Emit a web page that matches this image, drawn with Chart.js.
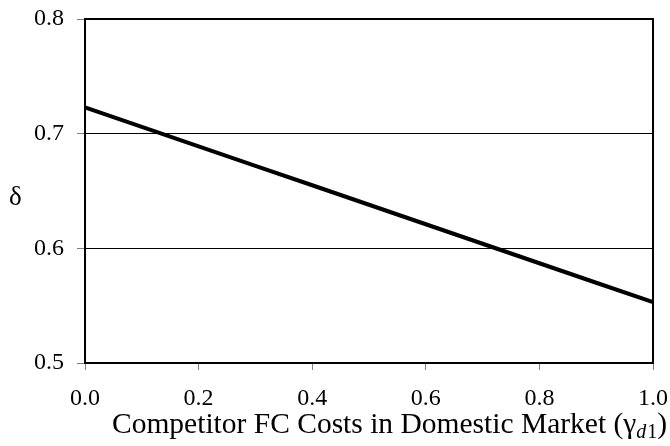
<!DOCTYPE html>
<html>
<head>
<meta charset="utf-8">
<script src="https://cdn.jsdelivr.net/npm/chart.js@4.4.1/dist/chart.umd.min.js"></script>
<style>
  html, body { margin: 0; padding: 0; background: #fff; }
  #wrap { width: 670px; height: 446px; position: relative; }
</style>
</head>
<body>
<div id="wrap"><canvas id="chartCanvas" width="670" height="446"></canvas></div>
<script>
// data
const xValues = [0.0, 0.1, 0.2, 0.3, 0.4, 0.5, 0.6, 0.7, 0.8, 0.9, 1.0];
const deltaValues = [0.723, 0.706, 0.689, 0.672, 0.655, 0.638, 0.621, 0.604, 0.587, 0.570, 0.553];
const xTicks = ['0.0', '0.2', '0.4', '0.6', '0.8', '1.0'];
const yTicks = ['0.5', '0.6', '0.7', '0.8'];

const serif = '"Liberation Serif", "Times New Roman", serif';
const ctx = document.getElementById('chartCanvas').getContext('2d');

// frame around the plot area
const framePlugin = {
  id: 'frame',
  afterDatasetsDraw(chart) {
    const a = chart.chartArea;
    const c = chart.ctx;
    c.save();
    c.strokeStyle = '#000';
    c.lineWidth = 2;
    c.strokeRect(a.left, a.top, a.right - a.left, a.bottom - a.top);
    c.restore();
  }
};

// axis titles: delta on the left, x title with subscript
const titlesPlugin = {
  id: 'titles',
  afterDraw(chart) {
    const c = chart.ctx;
    c.save();
    c.fillStyle = '#000';
    c.textBaseline = 'alphabetic';
    c.textAlign = 'left';
    c.font = '27px ' + serif;
    c.fillText('δ', 9, 205);

    let x = 112;
    const y = 433;
    c.font = '29.5px ' + serif;
    const main = 'Competitor FC Costs in Domestic Market (';
    c.fillText(main, x, y);
    x += c.measureText(main).width;
    c.fillText('γ', x, y);
    x += c.measureText('γ').width;
    c.font = 'italic 20px ' + serif;
    c.fillText('d', x, y + 5);
    x += c.measureText('d').width;
    c.font = '20px ' + serif;
    c.fillText('1', x + 1, y + 5);
    x += c.measureText('1').width + 1;
    c.font = '29.5px ' + serif;
    c.fillText(')', x, y);
    c.restore();
  }
};

new Chart(ctx, {
  type: 'line',
  data: {
    datasets: [{
      data: xValues.map((v, i) => ({ x: v, y: deltaValues[i] })),
      borderColor: '#000',
      borderWidth: 4,
      pointRadius: 0,
      tension: 0,
      fill: false
    }]
  },
  options: {
    responsive: false,
    animation: false,
    layout: { padding: { top: 19, right: 17, left: 0, bottom: 0 } },
    plugins: { legend: { display: false }, tooltip: { enabled: false } },
    scales: {
      x: {
        type: 'linear',
        min: 0, max: 1,
        afterFit(scale) {
          scale.height = 83;
          scale.paddingLeft = 0; scale.paddingRight = 0;
        },
        afterBuildTicks(scale) { scale.ticks = xTicks.map(t => ({ value: parseFloat(t) })); },
        border: { display: false },
        grid: { drawOnChartArea: false, tickLength: 7, tickColor: '#808080', lineWidth: 1 },
        ticks: {
          color: '#000', padding: 14,
          font: { family: serif, size: 24 },
          callback: v => Number(v).toFixed(1)
        }
      },
      y: {
        min: 0.5, max: 0.8,
        afterFit(scale) {
          scale.width = 85;
          scale.paddingTop = 0; scale.paddingBottom = 0;
        },
        afterBuildTicks(scale) { scale.ticks = yTicks.map(t => ({ value: parseFloat(t) })); },
        border: { display: false },
        grid: { color: '#000', lineWidth: 1, tickLength: 8, tickColor: '#808080' },
        ticks: {
          color: '#000', padding: 13,
          font: { family: serif, size: 24 },
          callback: v => Number(v).toFixed(1)
        }
      }
    }
  },
  plugins: [framePlugin, titlesPlugin]
});
</script>
</body>
</html>
